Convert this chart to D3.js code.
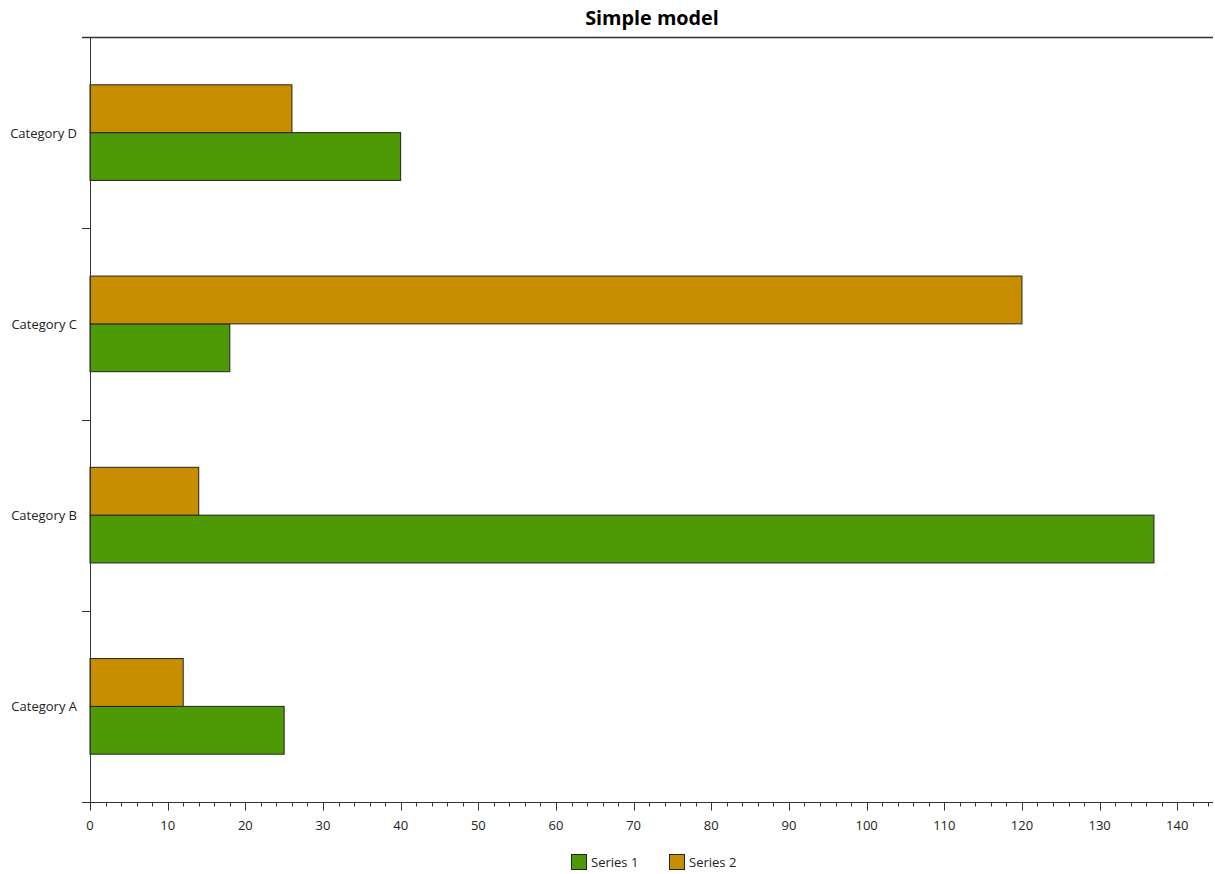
<!DOCTYPE html>
<html><head><meta charset="utf-8">
<script src="https://cdn.jsdelivr.net/npm/d3@7"></script>
<style>body{margin:0;background:#fff}svg{display:block}text{font-family:"Open Sans","Noto Sans",sans-serif}</style>
</head><body>
<script>
const categories = ["Category A","Category B","Category C","Category D"];
const seriesNames = ["Series 1","Series 2"];
const series1 = [25, 137, 18, 40];
const series2 = [12, 14, 120, 26];
const colors = ["#4e9a06","#c88e00"];
const xMajorTicks = [0,10,20,30,40,50,60,70,80,90,100,110,120,130,140];

const W=1215,H=874, L=90, R=1213, T=37, B=802;
const svg=d3.select("body").append("svg").attr("width",W).attr("height",H);
const x=d3.scaleLinear().domain([0,144.6]).range([L,R]);
const y=d3.scaleBand().domain(categories.slice().reverse()).range([T,B]);
const inner=d3.scaleBand().domain(["Series 2","Series 1"]).range([y.bandwidth()/4, y.bandwidth()*3/4]);

svg.append("text").attr("x",652).attr("y",25).attr("text-anchor","middle")
  .attr("font-weight","bold").attr("font-size",19.8).attr("fill","#000").text("Simple model");

// top frame line
svg.append("line").attr("x1",L-8).attr("x2",R).attr("y1",T+0.5).attr("y2",T+0.5).attr("stroke","#333").attr("stroke-width",1.5);

const data=[series1,series2];
categories.forEach((c,i)=>{
  seriesNames.forEach((s,j)=>{
    svg.append("rect").attr("x",x(0)).attr("y",y(c)+inner(s))
      .attr("width",x(data[j][i])-x(0)).attr("height",inner.bandwidth())
      .attr("fill",colors[j]).attr("stroke","#222").attr("stroke-width",1);
  });
});

// y axis
const yAxis=svg.append("g");
yAxis.append("line").attr("x1",L+0.5).attr("x2",L+0.5).attr("y1",T).attr("y2",B).attr("stroke","#333");
const bounds=[...categories.map(c=>y(c)), B];
yAxis.selectAll("line.t").data(bounds).join("line").attr("class","t")
  .attr("x1",L-8).attr("x2",L).attr("y1",d=>Math.round(d)+0.5).attr("y2",d=>Math.round(d)+0.5).attr("stroke","#333");
yAxis.selectAll("text").data(categories).join("text")
  .attr("x",L-13).attr("y",c=>y(c)+y.bandwidth()/2+5).attr("text-anchor","end")
  .attr("font-size",13).attr("fill","#222").text(c=>c);

// x axis
const xg=svg.append("g").attr("transform",`translate(0,${B+0.5})`);
xg.append("line").attr("x1",L-8).attr("x2",R).attr("stroke","#333");
const minor=d3.range(0,145,2);
xg.selectAll("line.m").data(minor).join("line").attr("class","m")
  .attr("x1",d=>Math.round(x(d))+0.5).attr("x2",d=>Math.round(x(d))+0.5).attr("y1",0)
  .attr("y2",d=>d%10===0?8:4).attr("stroke","#333");
xg.selectAll("text").data(xMajorTicks).join("text")
  .attr("x",d=>x(d)).attr("y",27).attr("text-anchor","middle").attr("font-size",13).attr("fill","#222").text(d=>d);

// legend
const lg=svg.append("g");
const lx=[571,669];
seriesNames.forEach((s,j)=>{
  lg.append("rect").attr("x",lx[j]+0.5).attr("y",854.5).attr("width",15).attr("height",15)
    .attr("fill",colors[j]).attr("stroke","#222");
  lg.append("text").attr("x",lx[j]+20).attr("y",867).attr("font-size",13).attr("fill","#222").text(s);
});
</script>
</body></html>
